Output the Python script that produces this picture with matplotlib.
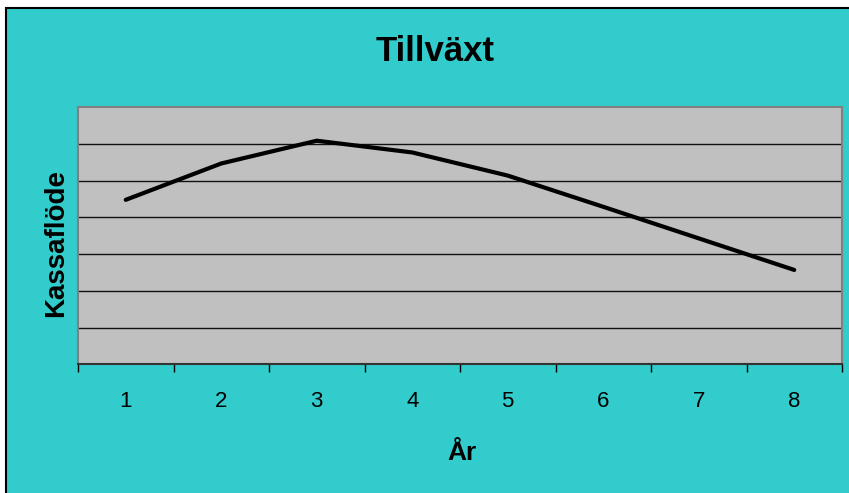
import matplotlib.pyplot as plt
import matplotlib.patches as mpatches
import numpy as np

ar = [1, 2, 3, 4, 5, 6, 7, 8]
kassaflode = [4.48, 5.47, 6.09, 5.77, 5.14, 4.29, 3.43, 2.57]
ticks = ['1', '2', '3', '4', '5', '6', '7', '8']

teal = '#33CCCC'
fontFam = ['Liberation Sans', 'DejaVu Sans']

fig = plt.figure(figsize=(8.49, 4.93), dpi=100)
fig.patch.set_facecolor('white')

# teal chart area with black frame (top/left visible)
bg = mpatches.Rectangle((6/849, -0.05), 1.0, (493-8)/493 + 0.05, transform=fig.transFigure,
                        facecolor=teal, edgecolor='black', lw=1.5, zorder=-10)
fig.patches.append(bg)

ax1 = fig.add_axes([78/849, (493-364.3)/493, (842-78)/849, (364.3-107.3)/493])
ax1.set_zorder(1)
ax1.set_facecolor('#C0C0C0')

ax1.plot(ar, kassaflode, color='black', lw=3, solid_capstyle='round', zorder=3)

ax1.set_xlim(0.5, 8.5)
ax1.set_ylim(0, 7)

# gridlines
ax1.set_yticks(range(1, 7))
ax1.yaxis.grid(True, linestyle='-', linewidth=1, color='#111111')
ax1.tick_params(axis='y', length=0, labelleft=False)
ax1.set_axisbelow(True)

# ticks between categories, labels in the middle
ax1.set_xticks(np.arange(0.5, 9, 1))
ax1.set_xticklabels([])
ax1.tick_params(axis='x', which='major', direction='out', length=6, width=1, color='black')
ax1.set_xticks(ar, minor=True)
ax1.set_xticklabels(ticks, minor=True, fontsize=16, family=fontFam)
ax1.tick_params(axis='x', which='minor', length=0, pad=19.5)

for s in ['top', 'left', 'right']:
    ax1.spines[s].set_color('#808080')
    ax1.spines[s].set_linewidth(1.5)
ax1.spines['bottom'].set_color('#333333')
ax1.spines['bottom'].set_linewidth(1.5)

fig.text(435/849, 1 - 61/493, 'Tillväxt', ha='center', va='baseline',
         fontsize=25, fontweight='bold', family=fontFam)
fig.text(461.5/849, 1 - 460/493, 'År', ha='center', va='baseline',
         fontsize=19, fontweight='bold', family=fontFam)
fig.text(63.3/849, 1 - 243/493, 'Kassaflöde', ha='center', va='baseline', rotation=90,
         rotation_mode='anchor', fontsize=20, fontweight='bold', family=fontFam)

plt.savefig('out.png', dpi=100, facecolor=fig.get_facecolor())
